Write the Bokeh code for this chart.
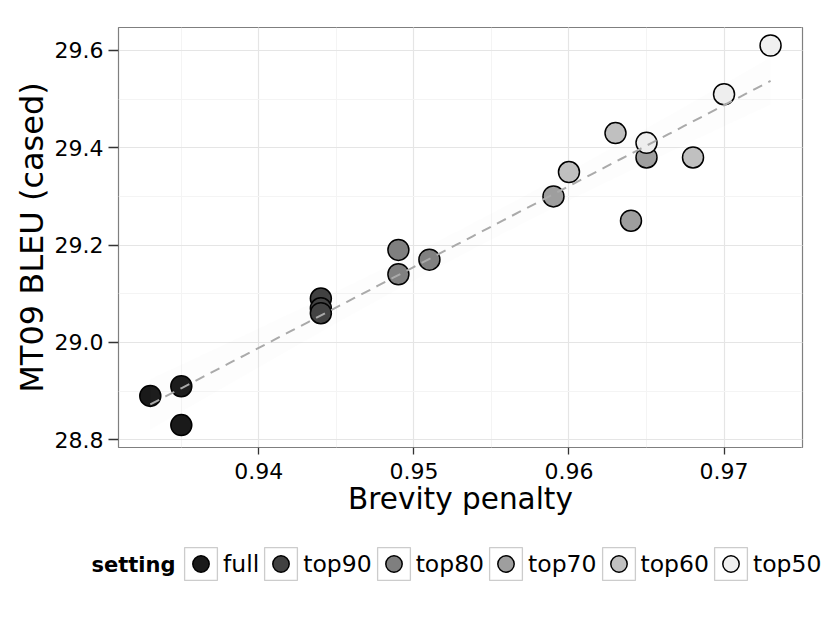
import numpy as np
from bokeh.plotting import figure
from bokeh.layouts import column, row
from bokeh.models import (Range1d, SingleIntervalTicker, PrintfTickFormatter,
                          Legend, LegendItem, Label)
from bokeh.embed import file_html
from bokeh.resources import INLINE

# ---------------- data ----------------
settings = ["full", "top90", "top80", "top70", "top60", "top50"]

point_setting = ["full", "full", "full",
                 "top90", "top90", "top90",
                 "top80", "top80", "top80",
                 "top70", "top70", "top70",
                 "top60", "top60", "top60",
                 "top50", "top50", "top50"]

brevity_penalty = [0.933, 0.935, 0.935,
                   0.944, 0.944, 0.944,
                   0.949, 0.949, 0.951,
                   0.959, 0.964, 0.965,
                   0.960, 0.963, 0.968,
                   0.965, 0.970, 0.973]

bleu_cased = [28.89, 28.91, 28.83,
              29.09, 29.07, 29.06,
              29.19, 29.14, 29.17,
              29.30, 29.25, 29.38,
              29.35, 29.43, 29.38,
              29.41, 29.51, 29.61]

x_ticks_interval = 0.01
y_ticks_interval = 0.2
x_limits = (0.93095, 0.97506)
y_limits = (28.784, 29.647)

# grey scale fill per setting
palette = ["#1a1a1a", "#414141", "#7f7f7f", "#9e9e9e", "#c0c0c0", "#f0f0f0"]

FONT = "DejaVu Sans"
W = 828

# ---------------- main figure ----------------
p = figure(width=W, height=527, output_backend="svg", toolbar_location=None,
           x_range=Range1d(*x_limits), y_range=Range1d(*y_limits),
           min_border_left=118, min_border_right=W - 118 - 684, min_border_top=27,
           min_border_bottom=80)
p.background_fill_color = "white"
p.border_fill_color = "white"
p.outline_line_color = "#7f7f7f"
p.outline_line_width = 1.2

p.xaxis.ticker = SingleIntervalTicker(interval=x_ticks_interval, num_minor_ticks=2)
p.yaxis.ticker = SingleIntervalTicker(interval=y_ticks_interval, num_minor_ticks=2)
p.xaxis.formatter = PrintfTickFormatter(format="%.2f")
p.yaxis.formatter = PrintfTickFormatter(format="%.1f")

for g in (p.xgrid, p.ygrid):
    g.grid_line_color = "#e5e5e5"
    g.grid_line_width = 1.2
    g.minor_grid_line_color = "#f4f4f4"
    g.minor_grid_line_width = 1.0

for ax in p.axis:
    ax.axis_line_color = None
    ax.major_tick_in = 0
    ax.minor_tick_line_color = None
    ax.major_tick_line_color = "#333333"
    ax.major_tick_line_width = 1.3
    ax.major_label_text_font = FONT
    ax.major_label_text_font_size = "22px"
    ax.major_label_text_color = "black"
    ax.axis_label_text_font = FONT
    ax.axis_label_text_font_style = "normal"
    ax.axis_label_text_color = "black"

p.xaxis.axis_label = "Brevity penalty"
p.yaxis.axis_label = "MT09 BLEU (cased)"
p.xaxis.axis_label_text_font_size = "29.5px"
p.yaxis.axis_label_text_font_size = "32px"
p.xaxis.major_tick_out = 7
p.yaxis.major_tick_out = 10
p.xaxis.major_label_standoff = 8
p.yaxis.major_label_standoff = 5
p.xaxis.axis_label_standoff = 0
p.yaxis.axis_label_standoff = 1

# ---------------- points ----------------
bp = np.array(brevity_penalty)
bl = np.array(bleu_cased)
ps = np.array(point_setting)

point_style = dict(size=21, line_color="black", line_width=1.5)
for s, col in zip(settings, palette):
    m = ps == s
    p.scatter(bp[m], bl[m], fill_color=col, **point_style)

# ---------------- linear fit with 95% band ----------------
n = len(bp)
slope, intercept = np.polyfit(bp, bl, 1)
resid = bl - (slope * bp + intercept)
s_err = np.sqrt(np.sum(resid ** 2) / (n - 2))
xbar = bp.mean()
sxx = np.sum((bp - xbar) ** 2)
t_crit = 2.1199  # t(0.975, df=16)
xs = np.linspace(bp.min(), bp.max(), 80)
fit = slope * xs + intercept
half = t_crit * s_err * np.sqrt(1.0 / n + (xs - xbar) ** 2 / sxx)

p.varea(x=xs, y1=fit - half, y2=fit + half, fill_color="#999999", fill_alpha=0.025)
p.line(xs, fit, line_color="#aaaaaa", line_width=2, line_dash="10 7")

# ---------------- legend strip (own figure so nothing is clipped) ----------------
leg = figure(width=W, height=73, output_backend="svg", toolbar_location=None,
             x_range=Range1d(0, 1), y_range=Range1d(0, 1),
             x_axis_location=None, y_axis_location=None, min_border=0,
             min_border_left=0, min_border_right=0)
leg.grid.visible = False
leg.outline_line_color = None
leg.background_fill_color = "white"
leg.border_fill_color = "white"

# key renderers: legend-only (single NaN row, nothing drawn in the strip)
key_box = leg.quad(left=[np.nan], right=[np.nan], top=[np.nan], bottom=[np.nan],
                   fill_color="white", line_color="#cccccc", line_width=1.3)
items = []
for s, col in zip(settings, palette):
    r = leg.scatter([np.nan], [np.nan], fill_color=col, **point_style)
    items.append(LegendItem(label=s, renderers=[key_box, r]))

legend = Legend(items=items, orientation="horizontal", location=(180, 16),
                glyph_width=41, glyph_height=41, label_standoff=2, spacing=1,
                padding=0, margin=0, border_line_color=None,
                background_fill_alpha=0,
                label_text_font=FONT, label_text_font_size="23.5px",
                label_text_color="black")
leg.add_layout(legend, "center")

legend_title = Label(x=175, y=36, x_units="screen", y_units="screen",
                     text="setting", text_align="right", text_baseline="middle",
                     text_font=FONT, text_font_style="bold",
                     text_font_size="21px", text_color="black")
leg.add_layout(legend_title)

layout = column(p, row(leg, spacing=0), spacing=0)
open("out.html", "w").write(file_html(layout, INLINE))
